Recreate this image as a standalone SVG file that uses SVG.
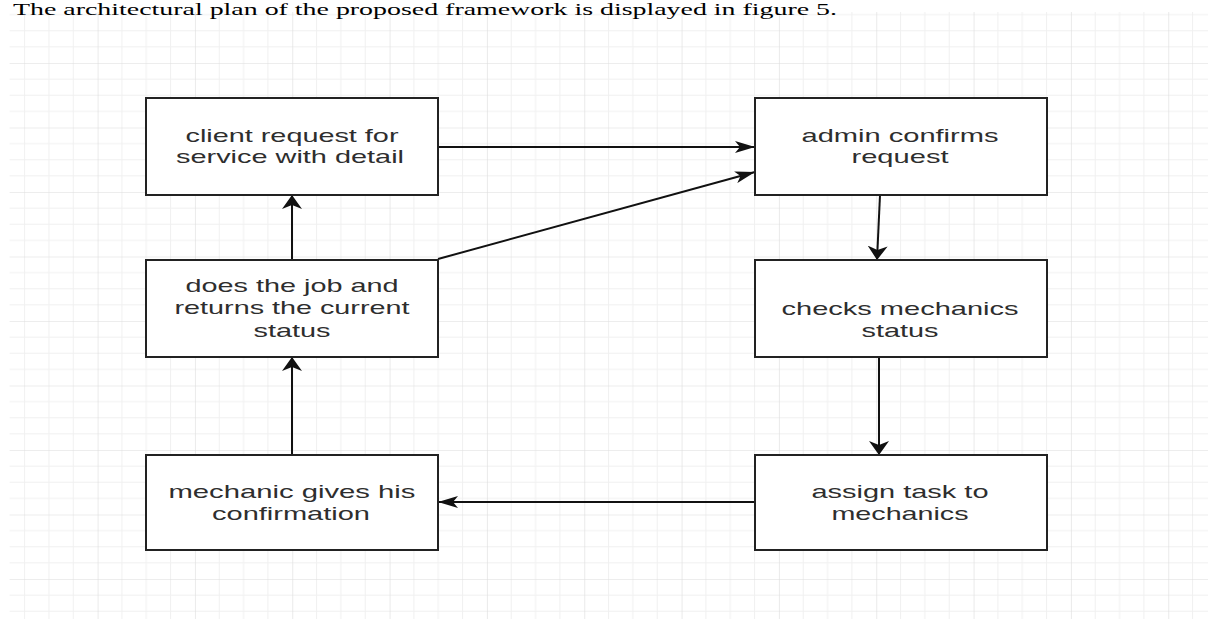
<svg xmlns="http://www.w3.org/2000/svg" width="1208" height="619" viewBox="0 0 1208 619">
<style>
.box{fill:#fff;stroke:#222;stroke-width:2}
.lbl{font-family:"Liberation Sans",Arial,sans-serif;font-size:19px;fill:#2e2e2e;text-anchor:middle}
.cap{font-family:"Liberation Serif","Times New Roman",serif;font-size:17px;fill:#000}
.edge{fill:none;stroke:#111;stroke-width:2}
.minor{stroke:#f0f0f0;stroke-width:1}
.major{stroke:#dcdcdc;stroke-width:1.2}
</style>
<defs>
<pattern id="grid" patternUnits="userSpaceOnUse" x="0.27" y="-1.5" width="97.33" height="64.5">
<line class="minor" x1="24.33" y1="0" x2="24.33" y2="64.5"/>
<line class="minor" x1="48.66" y1="0" x2="48.66" y2="64.5"/>
<line class="minor" x1="73" y1="0" x2="73" y2="64.5"/>
<line class="minor" x1="0" y1="16.12" x2="97.33" y2="16.12"/>
<line class="minor" x1="0" y1="32.25" x2="97.33" y2="32.25"/>
<line class="minor" x1="0" y1="48.37" x2="97.33" y2="48.37"/>
<line class="major" x1="0" y1="0" x2="0" y2="64.5"/>
<line class="major" x1="0" y1="0" x2="97.33" y2="0"/>
</pattern>
<marker id="mH" markerUnits="userSpaceOnUse" viewBox="0 0 20 12" markerWidth="20" markerHeight="12" refX="20" refY="6" orient="auto">
<path d="M0,0 L20,6 L0,12 L5,6 Z" fill="#111"/>
</marker>
<marker id="mV" markerUnits="userSpaceOnUse" viewBox="0 0 14 20" markerWidth="14" markerHeight="20" refX="14" refY="10" orient="auto">
<path d="M0,0 L14,10 L0,20 L4,10 Z" fill="#111"/>
</marker>
</defs>
<rect x="0" y="0" width="1208" height="619" fill="#fff"/>
<rect x="9.6" y="12" width="1198.4" height="607" fill="url(#grid)"/>
<text class="cap" x="13" y="15" textLength="824" lengthAdjust="spacingAndGlyphs">The architectural plan of the proposed framework is displayed in figure 5.</text>

<g id="connectors">
<line class="edge" x1="438" y1="147" x2="755" y2="147" marker-end="url(#mH)"/>
<line class="edge" x1="438" y1="259" x2="755" y2="172" marker-end="url(#mH)"/>
<line class="edge" x1="880" y1="195" x2="877" y2="260" marker-end="url(#mV)"/>
<line class="edge" x1="879" y1="357" x2="879" y2="455" marker-end="url(#mV)"/>
<line class="edge" x1="755" y1="502" x2="438" y2="502" marker-end="url(#mH)"/>
<line class="edge" x1="292" y1="455" x2="292" y2="357" marker-end="url(#mV)"/>
<line class="edge" x1="292" y1="260" x2="292" y2="195" marker-end="url(#mV)"/>
</g>

<g id="client-request">
<rect class="box" x="146" y="98" width="292" height="97"/>
<text class="lbl" x="292" y="142" textLength="213" lengthAdjust="spacingAndGlyphs">client request for</text>
<text class="lbl" x="290" y="163" textLength="228" lengthAdjust="spacingAndGlyphs">service with detail</text>
</g>
<g id="admin-confirms">
<rect class="box" x="755" y="98" width="292" height="97"/>
<text class="lbl" x="900" y="142" textLength="197" lengthAdjust="spacingAndGlyphs">admin confirms</text>
<text class="lbl" x="900" y="163" textLength="97" lengthAdjust="spacingAndGlyphs">request</text>
</g>
<g id="does-job">
<rect class="box" x="146" y="260" width="292" height="97"/>
<text class="lbl" x="292" y="292" textLength="213" lengthAdjust="spacingAndGlyphs">does the job and</text>
<text class="lbl" x="292" y="314" textLength="235" lengthAdjust="spacingAndGlyphs">returns the current</text>
<text class="lbl" x="292" y="337" textLength="77" lengthAdjust="spacingAndGlyphs">status</text>
</g>
<g id="checks-status">
<rect class="box" x="755" y="260" width="292" height="97"/>
<text class="lbl" x="900" y="315" textLength="237" lengthAdjust="spacingAndGlyphs">checks mechanics</text>
<text class="lbl" x="900" y="337" textLength="77" lengthAdjust="spacingAndGlyphs">status</text>
</g>
<g id="mechanic-confirms">
<rect class="box" x="146" y="455" width="292" height="95"/>
<text class="lbl" x="292" y="498" textLength="247" lengthAdjust="spacingAndGlyphs">mechanic gives his</text>
<text class="lbl" x="291" y="520" textLength="158" lengthAdjust="spacingAndGlyphs">confirmation</text>
</g>
<g id="assign-task">
<rect class="box" x="755" y="455" width="292" height="95"/>
<text class="lbl" x="900" y="498" textLength="177" lengthAdjust="spacingAndGlyphs">assign task to</text>
<text class="lbl" x="900" y="520" textLength="137" lengthAdjust="spacingAndGlyphs">mechanics</text>
</g>
</svg>
